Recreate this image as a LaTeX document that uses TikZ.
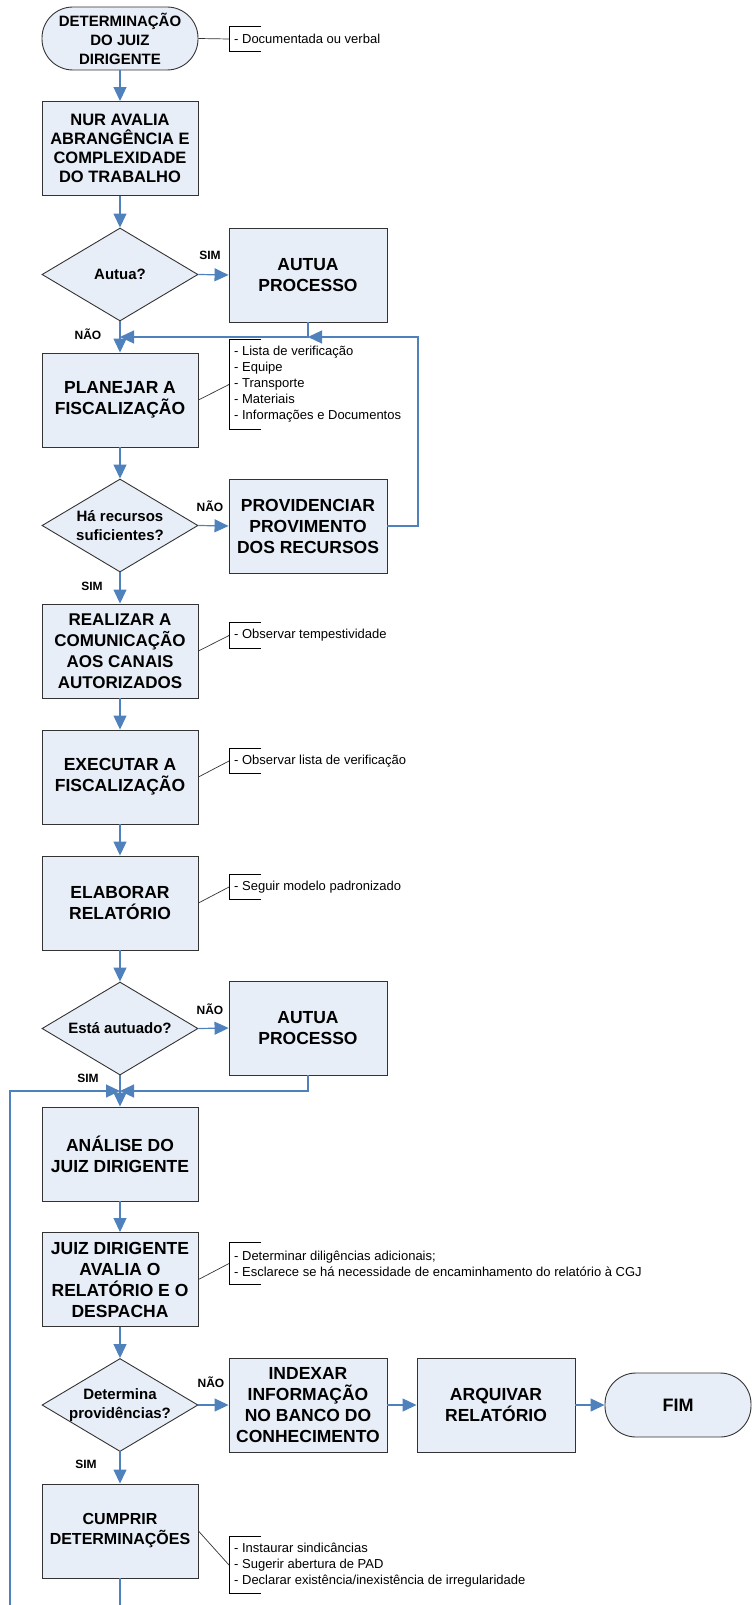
\documentclass[tikz,border=0pt]{standalone}
\usepackage{fontspec}
\setmainfont{Liberation Sans}
\usetikzlibrary{shapes.geometric,arrows.meta}

\definecolor{boxfill}{RGB}{232,238,247}
\definecolor{flowblue}{RGB}{79,129,189}

\tikzset{
  base/.style={draw=black!80, line width=0.9pt, fill=boxfill, align=center,
    font=\bfseries\fontsize{17.5}{21}\selectfont, inner sep=0pt},
  procbox/.style={base, rectangle, minimum width=156pt, minimum height=94pt},
  sidebox/.style={procbox, minimum width=158pt},
  termbox/.style={base, rectangle, rounded corners=31pt, minimum height=63pt},
  decision/.style={base, diamond, aspect=1.68, inner sep=-2pt, minimum width=156pt,
    minimum height=93pt, font=\bfseries\fontsize{15}{18.5}\selectfont},
  flow/.style={draw=flowblue, line width=1.2pt, -{Triangle[length=14pt,width=13pt]}},
  link/.style={draw=black!80, line width=0.7pt},
  note/.style={anchor=west, align=left, inner xsep=5pt, inner ysep=0pt,
    font=\fontsize{13}{16}\selectfont},
  notebrk/.style={draw=black, line width=0.7pt},
  lbl/.style={font=\bfseries\fontsize{12}{14}\selectfont, inner sep=0pt}
}

\begin{document}
\begin{tikzpicture}[x=1pt,y=-1pt]
\clip (0,0) rectangle (752,1605);

%definitions
\def\notebracket#1{\draw[notebrk] ([xshift=32pt]#1.north west) -- (#1.north west) -- (#1.south west) -- ([xshift=32pt]#1.south west);}

%main column
\node[termbox, minimum width=156pt, font=\bfseries\fontsize{15}{19}\selectfont] (inicio) at (120,38.5) {DETERMINAÇÃO\\DO JUIZ\\DIRIGENTE};
\node[procbox, font=\bfseries\fontsize{16.5}{19}\selectfont] (nur) at (120,148.5) {NUR AVALIA\\ABRANGÊNCIA E\\COMPLEXIDADE\\DO TRABALHO};
\node[decision] (autua) at (120,274.5) {Autua?};
\node[procbox] (planejar) at (120,400) {PLANEJAR A\\FISCALIZAÇÃO};
\node[decision] (recursos) at (120,525.5) {Há recursos\\suficientes?};
\node[procbox, font=\bfseries\fontsize{17}{21}\selectfont] (realizar) at (120,651) {REALIZAR A\\COMUNICAÇÃO\\AOS CANAIS\\AUTORIZADOS};
\node[procbox] (executar) at (120,777) {EXECUTAR A\\FISCALIZAÇÃO};
\node[procbox] (elaborar) at (120,903) {ELABORAR\\RELATÓRIO};
\node[decision] (autuado) at (120,1028.5) {Está autuado?};
\node[procbox] (analise) at (120,1154) {ANÁLISE DO\\JUIZ DIRIGENTE};
\node[procbox] (juiz) at (120,1279.5) {JUIZ DIRIGENTE\\AVALIA O\\RELATÓRIO E O\\DESPACHA};
\node[decision] (determina) at (120,1405) {Determina\\providências?};
\node[procbox, font=\bfseries\fontsize{16}{20}\selectfont] (cumprir) at (120,1531) {CUMPRIR\\DETERMINAÇÕES};

%side boxes
\node[sidebox] (autuaproc) at (308,275) {AUTUA\\PROCESSO};
\node[sidebox] (provid) at (308,526) {PROVIDENCIAR\\PROVIMENTO\\DOS RECURSOS};
\node[sidebox] (autuaproc2) at (308,1028) {AUTUA\\PROCESSO};
\node[sidebox] (indexar) at (308,1405) {INDEXAR\\INFORMAÇÃO\\NO BANCO DO\\CONHECIMENTO};
\node[sidebox] (arquivar) at (496,1405) {ARQUIVAR\\RELATÓRIO};
\node[termbox, minimum width=146pt, minimum height=64pt, font=\bfseries\fontsize{18}{21}\selectfont] (fim) at (678,1405) {FIM};

%notes
\node[note, minimum height=24pt] (nInicio) at (229,39) {- Documentada ou verbal};
\node[note, minimum height=89pt] (nPlanejar) at (229,384.5) {- Lista de verificação\\- Equipe\\- Transporte\\- Materiais\\- Informações e Documentos};
\node[note, minimum height=25pt] (nRealizar) at (229,635.5) {- Observar tempestividade};
\node[note, minimum height=24pt] (nExecutar) at (229,761) {- Observar lista de verificação};
\node[note, minimum height=24pt] (nElaborar) at (229,887) {- Seguir modelo padronizado};
\node[note, minimum height=41pt] (nJuiz) at (229,1263.5) {- Determinar diligências adicionais;\\- Esclarece se há necessidade de encaminhamento do relatório à CGJ};
\node[note, minimum height=56pt] (nCumprir) at (229,1565) {- Instaurar sindicâncias\\- Sugerir abertura de PAD\\- Declarar existência/inexistência de irregularidade};

\notebracket{nInicio}
\notebracket{nPlanejar}
\notebracket{nRealizar}
\notebracket{nExecutar}
\notebracket{nElaborar}
\notebracket{nJuiz}
\notebracket{nCumprir}

\draw[link] (inicio.east) -- (nInicio.west);
\draw[link] (planejar.east) -- (nPlanejar.west);
\draw[link] (realizar.east) -- (nRealizar.west);
\draw[link] (executar.east) -- (nExecutar.west);
\draw[link] (elaborar.east) -- (nElaborar.west);
\draw[link] (juiz.east) -- (nJuiz.west);
\draw[link] (cumprir.east) -- (nCumprir.west);

%labels
\node[lbl] (simAutua) at (210,255) {SIM};
\node[lbl] (naoAutua) at (88,334) {NÃO};
\node[lbl] (naoRec) at (210,506) {NÃO};
\node[lbl] (simRec) at (92,586) {SIM};
\node[lbl] (naoAutuado) at (210,1009) {NÃO};
\node[lbl] (simAutuado) at (88,1078) {SIM};
\node[lbl] (naoDet) at (211,1382) {NÃO};
\node[lbl] (simDet) at (86,1464) {SIM};

%merge points
\coordinate (m1) at (120,337);
\coordinate (m2) at (308,337);
\coordinate (r1) at (418,337);
\coordinate (m3) at (120,1091);
\coordinate (lp) at (10,1640);

%connectors
\draw[flow] (inicio.south) -- (nur.north);
\draw[flow] (nur.south) -- (autua.north);
\draw[flow] (autua.east) -- (autuaproc.west);
\draw[flow] (autua.south) -- (planejar.north);
\draw[flow] (autuaproc.south) |- (m1);
\draw[flow] (provid.east) -| (r1) -- (m2);
\draw[flow] (planejar.south) -- (recursos.north);
\draw[flow] (recursos.east) -- (provid.west);
\draw[flow] (recursos.south) -- (realizar.north);
\draw[flow] (realizar.south) -- (executar.north);
\draw[flow] (executar.south) -- (elaborar.north);
\draw[flow] (elaborar.south) -- (autuado.north);
\draw[flow] (autuado.east) -- (autuaproc2.west);
\draw[flow] (autuado.south) -- (analise.north);
\draw[flow] (autuaproc2.south) |- (m3);
\draw[flow] (analise.south) -- (juiz.north);
\draw[flow] (juiz.south) -- (determina.north);
\draw[flow] (determina.east) -- (indexar.west);
\draw[flow] (indexar.east) -- (arquivar.west);
\draw[flow] (arquivar.east) -- (fim.west);
\draw[flow] (determina.south) -- (cumprir.north);
\draw[flow] (cumprir.south) |- (lp) |- (m3);
\end{tikzpicture}
\end{document}
